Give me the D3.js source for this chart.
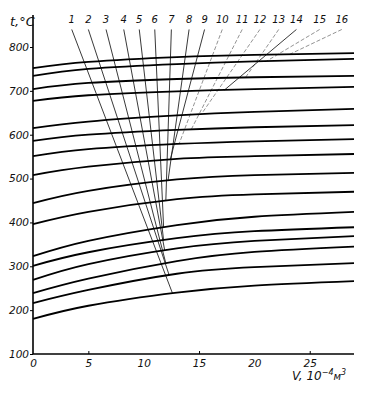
<!DOCTYPE html>
<html>
<head>
<meta charset="utf-8">
<script src="https://cdn.jsdelivr.net/npm/d3@7"></script>
<style>
  body { margin: 0; background: #fff; }
  text { font-family: "DejaVu Sans", sans-serif; font-style: italic; fill: #111; }
</style>
</head>
<body>
<div id="chart"></div>
<script>
// sample volumes, 10^-4 m^3
const volumes = [0, 5, 13, 20, 29];

// temperature curves (t, C) read at the sample volumes, top to bottom
const curve1  = [752, 766, 777, 782, 786];
const curve2  = [734, 750, 761, 767, 773];
const curve3  = [704, 718, 727, 731, 734];
const curve4  = [677, 690, 699, 704, 709];
const curve5  = [615, 630, 644, 652, 659];
const curve6  = [586, 600, 611, 617, 622];
const curve7  = [551, 567, 579, 585, 590];
const curve8  = [508, 527, 545, 551, 556];
const curve9  = [444, 472, 498, 508, 513];
const curve10 = [396, 424, 453, 464, 470];
const curve11 = [323, 358, 394, 413, 424];
const curve12 = [301, 332, 364, 380, 389];
const curve13 = [269, 305, 341, 358, 369];
const curve14 = [239, 272, 312, 333, 345];
const curve15 = [216, 246, 283, 298, 307];
const curve16 = [180, 210, 240, 256, 266];
const curves = [curve1, curve2, curve3, curve4, curve5, curve6, curve7, curve8,
                curve9, curve10, curve11, curve12, curve13, curve14, curve15, curve16];

// fan of numbered lines: label volume at the top, end curve and end volume
const fanLabels = ["1","2","3","4","5","6","7","8","9","10","11","12","13","14","15","16"];
const fanTopV   = [3.5, 5.0, 6.6, 8.2, 9.6, 11.0, 12.5, 14.1, 15.5, 17.1, 18.9, 20.5, 22.2, 23.8, 25.9, 27.9];
const fanEndCurve = [16, 15, 14, 13, 12, 11, 10, 9, 8, 7, 6, 5, 3, 4, 2, 1];
const fanEndV   = [12.6, 12.3, 12.0, 11.9, 11.8, 11.8, 12.0, 12.2, 12.4, 13.2, 14.3, 15.2, 19.2, 17.3, 21.1, 23.2];
const fanDashed = [false, false, false, false, false, false, false, false, false, true, true, true, true, false, true, true];
const fanTopT = 840;
const labelT = 862;

const xTicks = [0, 5, 10, 15, 20, 25];
const yTicks = [100, 200, 300, 400, 500, 600, 700, 800];

const width = 376, height = 398;

const svg = d3.select("#chart").append("svg")
    .attr("width", width)
    .attr("height", height);

const x = d3.scaleLinear().domain([0, 29]).range([33, 354]);
const y = d3.scaleLinear().domain([100, 800]).range([354, 47]);

// linear lookup on a curve
function tAt(c, v) {
    for (let i = 0; i < volumes.length - 1; i++) {
        if (v <= volumes[i + 1]) {
            const f = (v - volumes[i]) / (volumes[i + 1] - volumes[i]);
            return c[i] + f * (c[i + 1] - c[i]);
        }
    }
    return c[c.length - 1];
}

// fan lines (drawn under the curves)
fanLabels.forEach((lab, i) => {
    const endT = tAt(curves[fanEndCurve[i] - 1], fanEndV[i]);
    svg.append("line")
        .attr("x1", x(fanTopV[i]))
        .attr("y1", y(fanTopT))
        .attr("x2", x(fanEndV[i]))
        .attr("y2", y(endT))
        .attr("stroke", fanDashed[i] ? "#777" : "#222")
        .attr("stroke-width", fanDashed[i] ? 0.8 : 0.9)
        .attr("stroke-dasharray", fanDashed[i] ? "4,2" : null);

    svg.append("text")
        .attr("x", x(fanTopV[i]))
        .attr("y", y(labelT))
        .attr("text-anchor", "middle")
        .attr("dy", "0.35em")
        .style("font-size", "10px")
        .text(lab);
});

// curves
const line = d3.line()
    .x((d, i) => x(volumes[i]))
    .y(d => y(d))
    .curve(d3.curveNatural);

svg.selectAll(".curve")
    .data(curves)
    .enter().append("path")
    .attr("class", "curve")
    .attr("d", line)
    .attr("fill", "none")
    .attr("stroke", "#000")
    .attr("stroke-width", 1.8);

// axes
const xAxis = d3.axisBottom(x).tickValues(xTicks).tickSize(-3).tickPadding(6).tickSizeOuter(0);
const yAxis = d3.axisLeft(y).tickValues(yTicks).tickSize(3).tickPadding(1).tickSizeOuter(0);

const gx = svg.append("g")
    .attr("transform", "translate(0," + y(100) + ")")
    .call(xAxis);
const gy = svg.append("g")
    .attr("transform", "translate(" + x(0) + ",0)")
    .call(yAxis);

gx.select(".domain").attr("stroke-width", 1.6).attr("d", "M" + x(0) + ",0H" + x(29));
gy.select(".domain").attr("stroke-width", 1.6).attr("d", "M0," + y(100) + "V15");
[gx, gy].forEach(g => {
    g.selectAll(".tick line").attr("stroke", "#000").attr("stroke-width", 1);
    g.selectAll(".tick text")
        .style("font-size", "10.5px")
        .style("font-family", "DejaVu Sans, sans-serif")
        .style("font-style", "italic")
        .attr("fill", "#111");
});
gx.selectAll(".tick line").filter(d => d === 0 || d === 10 || d === 20).remove();

// axis titles
svg.append("text")
    .attr("x", 10)
    .attr("y", 26)
    .style("font-size", "13px")
    .text("t,°C");

const vt = svg.append("text")
    .attr("x", 292)
    .attr("y", 380)
    .style("font-size", "12px");
vt.append("tspan").text("V, 10");
vt.append("tspan").attr("dy", -5).style("font-size", "8px").text("−4");
vt.append("tspan").attr("dy", 5).style("font-size", "10px").text("м");
vt.append("tspan").attr("dy", -5).style("font-size", "8px").text("3");
</script>
</body>
</html>
